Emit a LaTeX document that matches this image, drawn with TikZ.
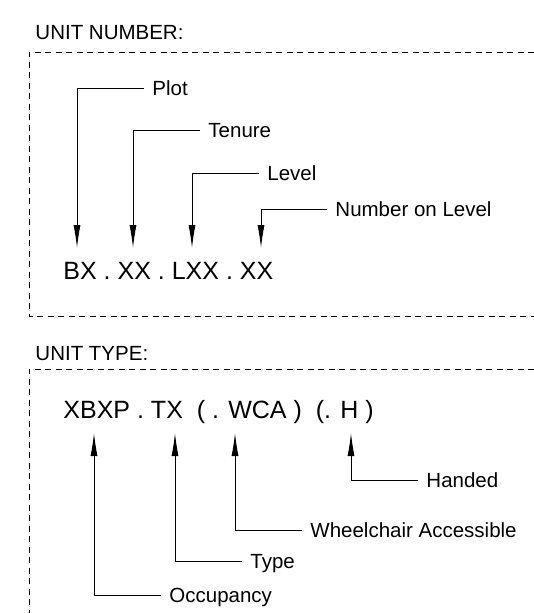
\documentclass[tikz,border=0pt]{standalone}
\usepackage{fontspec}
\setmainfont{Liberation Sans}
\usetikzlibrary{arrows.meta}

\begin{document}
\begin{tikzpicture}[x=1pt,y=-1pt,>={Latex[length=23pt,width=7pt]},
                    line width=0.9pt,
                    frame/.style={dash pattern=on 6pt off 4.5pt,line width=0.8pt},
                    header/.style={anchor=west,inner sep=0pt,text height=14.5pt,
                                   text depth=0pt,font=\fontsize{20.5}{24}\selectfont},
                    label/.style={header,inner xsep=8pt},
                    code/.style={anchor=base west,inner sep=0pt,
                                 font=\fontsize{25}{30}\selectfont}]

  \useasboundingbox (0,0) rectangle (534,613);

  % unit number
  \node[header] (numhead) at (35,32)  {UNIT NUMBER:};
  \draw[frame] (534,52) -- (29,52) -- (29,316) -- (534,316);

  \node[code]  (numcode) at (63,279)  {BX . XX . LXX . XX};
  \node[label] (plot)    at (144,88)  {Plot};
  \node[label] (tenure)  at (200,130) {Tenure};
  \node[label] (level)   at (259,173) {Level};
  \node[label] (number)  at (327,209) {Number on Level};

  \coordinate (bx) at (77,248);
  \coordinate (xx) at (133,248);
  \coordinate (lxx) at (192,248);
  \coordinate (nx) at (261,248);

  \draw[->] (plot.west)   -| (bx);
  \draw[->] (tenure.west) -| (xx);
  \draw[->] (level.west)  -| (lxx);
  \draw[->] (number.west) -| (nx);

  % unit type
  \node[header] (typehead) at (35,353) {UNIT TYPE:};
  \draw[frame] (534,369) -- (29,369) -- (29,613);

  \node[code]  (typecode)  at (63,418) {XBXP . TX~~( . WCA )~~(. H )};
  \node[label] (handed)    at (418,480) {Handed};
  \node[label] (wheel)     at (302,530) {Wheelchair Accessible};
  \node[label] (type)      at (242,561) {Type};
  \node[label] (occupancy) at (161,595) {Occupancy};

  \coordinate (xbxp) at (94,433);
  \coordinate (tx) at (175,433);
  \coordinate (wca) at (235,433);
  \coordinate (h) at (351,433);

  \draw[->] (occupancy.west) -| (xbxp);
  \draw[->] (type.west)      -| (tx);
  \draw[->] (wheel.west)     -| (wca);
  \draw[->] (handed.west)    -| (h);
\end{tikzpicture}
\end{document}
